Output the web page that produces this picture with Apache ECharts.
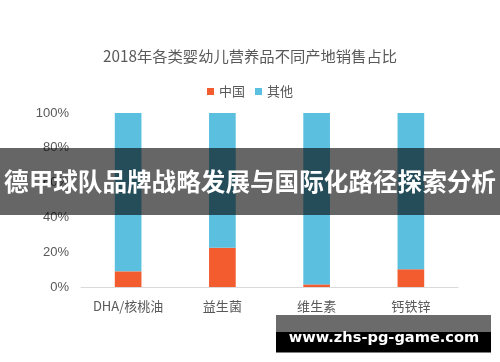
<!DOCTYPE html>
<html>
<head>
<meta charset="utf-8">
<script src="https://cdn.jsdelivr.net/npm/echarts@6/dist/echarts.min.js"></script>
<style>
html,body{margin:0;padding:0;background:#fff;}
#main{width:500px;height:362px;}
</style>
</head>
<body>
<div id="main"></div>
<script>
var categories = ['DHA/核桃油', '益生菌', '维生素', '钙铁锌'];
var chinaValues = [9, 22.5, 1.5, 10.2];
var otherValues = [91, 77.5, 98.5, 89.8];
var yTicks = [0, 20, 40, 60, 80, 100];
var titleText = '2018年各类婴幼儿营养品不同产地销售占比';
var bannerText = '德甲球队品牌战略发展与国际化路径探索分析';
var watermarkText = 'www.zhs-pg-game.com';

var FONT = '"Noto Sans CJK SC", "Liberation Sans", sans-serif';
var chart = echarts.init(document.getElementById('main'), null, {renderer: 'canvas'});
chart.setOption({
  animation: false,
  backgroundColor: '#fff',
  title: {
    text: titleText,
    left: 'center',
    top: 44,
    textStyle: {fontFamily: FONT, fontSize: 15.3, fontWeight: 'normal', color: '#595959'}
  },
  legend: {
    top: 80,
    left: 'center',
    itemWidth: 7,
    itemHeight: 7,
    itemGap: 10,
    icon: 'rect',
    textStyle: {fontFamily: FONT, fontSize: 13, color: '#595959'},
    data: ['中国', '其他']
  },
  grid: {left: 81, right: 42, top: 113, bottom: 75},
  xAxis: {
    type: 'category',
    data: categories,
    axisLine: {lineStyle: {color: '#D9D9D9'}},
    axisTick: {show: false},
    axisLabel: {fontFamily: FONT, fontSize: 13, color: '#595959', margin: 13}
  },
  yAxis: {
    type: 'value',
    min: yTicks[0],
    max: yTicks[yTicks.length - 1],
    interval: 20,
    splitLine: {show: false},
    axisLine: {show: false},
    axisTick: {show: false},
    axisLabel: {fontFamily: '"Liberation Sans", Arial, sans-serif', fontSize: 13, color: '#595959', margin: 12, formatter: '{value}%'}
  },
  series: [
    {name: '中国', type: 'bar', stack: 'a', data: chinaValues, barWidth: '28.3%', itemStyle: {color: '#F25C2E'}},
    {name: '其他', type: 'bar', stack: 'a', data: otherValues, barWidth: '28.3%', itemStyle: {color: '#5BC0DF'}}
  ],
  graphic: [
    {type: 'rect', z: 100, shape: {x: 0, y: 148, width: 500, height: 67}, style: {fill: 'rgba(0,0,0,0.6)'}},
    {type: 'text', z: 101, x: 250, y: 181.5, style: {text: bannerText, fill: '#fff', font: 'bold 24.6px "Noto Sans CJK SC", sans-serif', textAlign: 'center', textVerticalAlign: 'middle'}},
    {type: 'rect', z: 100, shape: {x: 276, y: 315, width: 215, height: 17}, style: {fill: 'rgba(0,0,0,0.58)'}},
    {type: 'rect', z: 100, shape: {x: 276, y: 332, width: 215, height: 20.5}, style: {fill: '#000'}},
    {type: 'text', z: 101, x: 384, y: 338, style: {text: watermarkText, fill: '#fff', font: 'bold 14.6px "DejaVu Sans", sans-serif', textAlign: 'center', textVerticalAlign: 'middle'}}
  ]
});
</script>
</body>
</html>
